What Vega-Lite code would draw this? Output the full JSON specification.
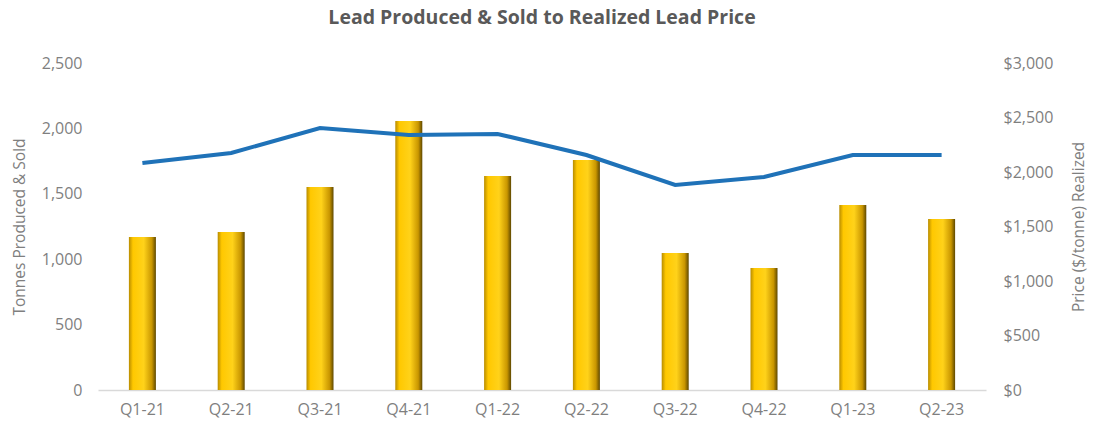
{
  "$schema": "https://vega.github.io/schema/vega-lite/v6.json",
  "width": 888,
  "height": 327,
  "autosize": {"type": "none"},
  "padding": {"left": 98, "top": 63, "right": 107, "bottom": 40},
  "background": "white",
  "config": {
    "view": {"stroke": null},
    "font": "Open Sans",
    "axis": {"grid": false, "labelFont": "Open Sans", "titleFont": "Open Sans", "labelColor": "#7f7f7f", "titleColor": "#7f7f7f", "labelFontSize": 16, "titleFontSize": 15.5, "titleFontWeight": "normal"}
  },
  "title": {"text": "Lead Produced & Sold to Realized Lead Price", "fontSize": 19.5, "font": "Open Sans", "fontWeight": "bold", "color": "#595959", "offset": 27},
  "data": {
    "values": [
      {"quarter": "Q1-21", "tonnes": 1170, "price": 2083},
      {"quarter": "Q2-21", "tonnes": 1208, "price": 2174},
      {"quarter": "Q3-21", "tonnes": 1552, "price": 2404},
      {"quarter": "Q4-21", "tonnes": 2057, "price": 2339},
      {"quarter": "Q1-22", "tonnes": 1636, "price": 2349},
      {"quarter": "Q2-22", "tonnes": 1758, "price": 2156},
      {"quarter": "Q3-22", "tonnes": 1047, "price": 1881},
      {"quarter": "Q4-22", "tonnes": 933, "price": 1954},
      {"quarter": "Q1-23", "tonnes": 1414, "price": 2156},
      {"quarter": "Q2-23", "tonnes": 1307, "price": 2156}
    ]
  },
  "encoding": {
    "x": {"field": "quarter", "type": "nominal", "sort": null, "title": null,
          "scale": {"paddingInner": 0.3, "paddingOuter": 0.15},
          "axis": {"labelAngle": 0, "ticks": false, "domainColor": "#d9d9d9", "domainWidth": 1.5, "labelPadding": 11}}
  },
  "layer": [
    {
      "mark": {"type": "bar", "size": 27,
        "color": {"gradient": "linear", "x1": 0, "x2": 1, "y1": 0, "y2": 0,
          "stops": [
            {"offset": 0, "color": "#b88c00"},
            {"offset": 0.15, "color": "#ffc800"},
            {"offset": 0.55, "color": "#ffd21a"},
            {"offset": 0.85, "color": "#c99600"},
            {"offset": 1, "color": "#5e4800"}
          ]}},
      "encoding": {
        "y": {"field": "tonnes", "type": "quantitative", "title": "Tonnes Produced & Sold",
              "scale": {"domain": [0, 2500]},
              "axis": {"values": [0, 500, 1000, 1500, 2000, 2500], "format": ",.0f", "domain": false, "ticks": false, "labelPadding": 16, "titlePadding": 14}}
      }
    },
    {
      "mark": {"type": "line", "color": "#1f72b8", "strokeWidth": 4},
      "encoding": {
        "y": {"field": "price", "type": "quantitative", "title": "Price ($/tonne) Realized",
              "scale": {"domain": [0, 3000]},
              "axis": {"orient": "right", "values": [0, 500, 1000, 1500, 2000, 2500, 3000], "format": "$,.0f", "domain": false, "ticks": false, "labelPadding": 17, "titlePadding": 34, "titleAngle": 270}}
      }
    }
  ],
  "resolve": {"scale": {"y": "independent"}}
}
